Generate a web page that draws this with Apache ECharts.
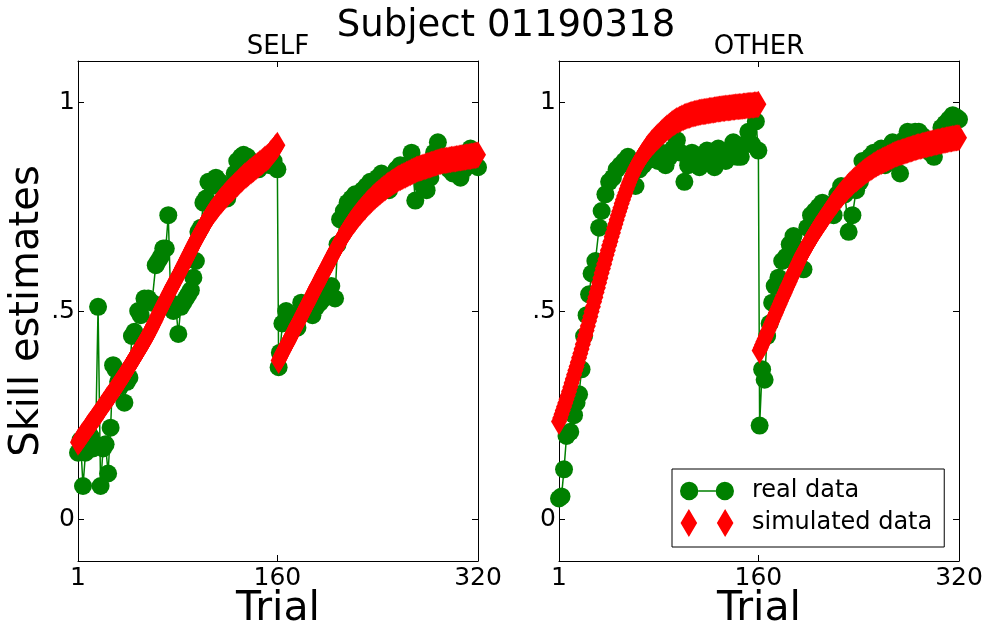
<!DOCTYPE html>
<html>
<head>
<meta charset="utf-8">
<script src="https://cdn.jsdelivr.net/npm/echarts@6/dist/echarts.min.js"></script>
<style>
html,body{margin:0;padding:0;background:#fff;}
#chart{width:988px;height:633px;}
</style>
</head>
<body>
<div id="chart"></div>
<script>
// ---------- DATA ----------
var mainTitle = 'Subject 01190318';
var panelTitles = ['SELF', 'OTHER'];
var xTicks = [1, 160, 320];
var yTicks = [0, 0.5, 1];
var yTickLabels = ['0', '.5', '1'];

var selfRealTrials = [1,3,5,7,9,11,13,15,17,19,21,23,25,27,29,31,33,35,38,40,42,44,46,49,51,54,57,60,63,65,67,69,71,73,75,77,79,81,83,85,87,89,91,93,95,97,99,101,103,105,108,111,114,117,120,123,126,128,131,133,136,139,142,145,148,151,154,157,160,
  161,162,164,167,170,173,176,179,182,185,188,191,194,197,200,203,206,208,210,213,216,219,222,225,228,231,234,237,240,243,246,249,252,255,258,261,264,267,270,273,276,279,282,285,288,291,294,297,300,303,306,309,312,314,317,320];
var selfRealValues = [0.16,0.19,0.08,0.16,0.21,0.20,0.17,0.18,0.51,0.08,0.17,0.18,0.11,0.22,0.37,0.36,0.33,0.32,0.28,0.33,0.34,0.44,0.45,0.50,0.49,0.53,0.53,0.52,0.61,0.62,0.63,0.65,0.65,0.73,0.52,0.50,0.51,0.445,0.51,0.52,0.53,0.54,0.55,0.58,0.62,0.69,0.70,0.76,0.77,0.81,0.80,0.82,0.81,0.80,0.77,0.79,0.83,0.86,0.87,0.875,0.87,0.86,0.85,0.84,0.85,0.86,0.85,0.86,0.84,
  0.365,0.40,0.47,0.50,0.49,0.48,0.46,0.52,0.51,0.50,0.49,0.51,0.52,0.53,0.54,0.56,0.53,0.66,0.72,0.74,0.76,0.77,0.78,0.78,0.79,0.80,0.81,0.80,0.82,0.83,0.81,0.79,0.82,0.84,0.85,0.84,0.85,0.88,0.765,0.83,0.80,0.79,0.82,0.88,0.905,0.87,0.86,0.84,0.83,0.84,0.82,0.84,0.86,0.89,0.86,0.845];

var otherRealTrials = [1,3,5,7,10,13,15,17,19,21,23,25,27,30,33,35,38,41,44,47,50,53,56,59,62,65,68,71,74,77,80,83,86,89,92,95,98,101,104,107,110,113,116,119,122,125,128,131,134,137,140,143,146,149,152,155,158,160,
  161,163,165,167,169,171,173,176,179,182,185,188,191,193,196,199,202,205,208,211,214,217,220,223,226,229,232,235,238,241,243,246,249,252,255,258,261,264,267,270,273,276,279,282,285,288,291,294,297,300,303,306,309,312,315,318,320];
var otherRealValues = [0.05,0.055,0.12,0.20,0.21,0.25,0.28,0.30,0.36,0.44,0.49,0.54,0.59,0.62,0.70,0.74,0.78,0.81,0.82,0.84,0.85,0.86,0.87,0.86,0.80,0.84,0.85,0.86,0.88,0.87,0.86,0.88,0.85,0.87,0.89,0.91,0.88,0.81,0.85,0.88,0.86,0.845,0.87,0.885,0.86,0.845,0.89,0.87,0.86,0.88,0.905,0.87,0.87,0.90,0.93,0.90,0.955,0.885,
  0.225,0.36,0.335,0.44,0.47,0.52,0.56,0.58,0.62,0.63,0.66,0.68,0.65,0.645,0.60,0.70,0.73,0.74,0.75,0.76,0.75,0.74,0.73,0.78,0.80,0.78,0.69,0.73,0.79,0.81,0.86,0.86,0.87,0.88,0.88,0.89,0.85,0.89,0.905,0.88,0.83,0.91,0.93,0.92,0.93,0.93,0.92,0.90,0.88,0.87,0.90,0.94,0.95,0.96,0.97,0.965,0.96];

// simulated data, one value per trial; first block = trials 1..160, second block = trials 161..320
var selfSimFirst = [.185,.189,.193,.198,.202,.206,.210,.215,.219,.224,
  .228,.232,.236,.241,.245,.249,.253,.258,.262,.267,
  .271,.276,.280,.285,.289,.293,.297,.302,.306,.311,
  .315,.320,.324,.329,.333,.338,.343,.348,.352,.357,
  .362,.367,.372,.377,.382,.387,.392,.397,.402,.407,
  .412,.417,.422,.427,.432,.438,.443,.449,.455,.461,
  .467,.473,.479,.486,.492,.498,.504,.510,.516,.522,
  .528,.534,.540,.546,.552,.558,.563,.569,.575,.581,
  .586,.592,.598,.604,.610,.616,.622,.628,.634,.640,
  .646,.652,.658,.664,.669,.675,.680,.686,.691,.697,
  .702,.708,.713,.718,.723,.728,.732,.737,.741,.745,
  .749,.753,.757,.761,.764,.768,.771,.775,.778,.782,
  .785,.788,.791,.794,.797,.800,.803,.806,.809,.812,
  .815,.818,.821,.824,.826,.829,.831,.834,.836,.839,
  .841,.844,.846,.849,.851,.854,.856,.859,.861,.864,
  .866,.869,.871,.875,.879,.883,.886,.890,.894,.898];
var selfSimSecond = [.381,.387,.393,.399,.405,.411,.417,.422,.428,.434,
  .440,.446,.452,.458,.464,.469,.475,.481,.487,.493,
  .499,.505,.511,.516,.522,.528,.534,.540,.546,.552,
  .558,.563,.569,.575,.581,.587,.593,.598,.604,.610,
  .616,.621,.627,.633,.639,.644,.650,.655,.661,.666,
  .672,.677,.682,.687,.692,.696,.701,.705,.710,.714,
  .718,.722,.726,.730,.734,.737,.741,.744,.748,.751,
  .755,.758,.761,.764,.767,.770,.773,.776,.779,.781,
  .784,.786,.789,.791,.794,.796,.799,.801,.803,.805,
  .807,.809,.811,.813,.815,.817,.819,.820,.822,.823,
  .825,.826,.828,.829,.831,.832,.834,.835,.837,.838,
  .840,.841,.842,.843,.844,.845,.846,.847,.848,.849,
  .850,.851,.852,.853,.854,.855,.856,.857,.858,.859,
  .860,.860,.861,.861,.862,.862,.863,.863,.864,.864,
  .865,.865,.866,.866,.867,.867,.868,.868,.869,.869,
  .870,.870,.871,.871,.872,.872,.873,.873,.874,.875];
var otherSimFirst = [.235,.243,.252,.261,.270,.279,.288,.297,.307,.317,
  .327,.337,.347,.357,.367,.377,.388,.398,.409,.420,
  .431,.442,.453,.464,.476,.487,.499,.510,.522,.533,
  .545,.556,.568,.579,.591,.602,.613,.624,.635,.646,
  .657,.667,.678,.688,.699,.709,.719,.729,.739,.748,
  .758,.767,.776,.784,.793,.801,.809,.816,.824,.830,
  .837,.843,.849,.854,.860,.865,.870,.874,.879,.883,
  .888,.892,.896,.899,.903,.906,.910,.913,.916,.919,
  .922,.925,.928,.931,.934,.936,.939,.941,.944,.946,
  .949,.951,.953,.955,.957,.958,.960,.961,.963,.964,
  .966,.967,.968,.969,.970,.971,.972,.973,.974,.974,
  .975,.976,.977,.977,.978,.978,.979,.979,.980,.980,
  .981,.981,.982,.982,.983,.983,.984,.984,.985,.985,
  .986,.986,.986,.987,.987,.987,.988,.988,.989,.989,
  .989,.990,.990,.990,.991,.991,.991,.992,.992,.992,
  .993,.993,.993,.994,.994,.994,.995,.995,.995,.996];
var otherSimSecond = [.405,.412,.419,.426,.433,.440,.447,.454,.461,.468,
  .475,.482,.489,.496,.503,.510,.517,.524,.531,.537,
  .544,.551,.558,.564,.571,.578,.585,.591,.598,.604,
  .611,.617,.624,.630,.636,.641,.647,.652,.658,.663,
  .668,.673,.678,.683,.688,.693,.698,.702,.707,.711,
  .716,.720,.725,.729,.734,.738,.743,.747,.752,.756,
  .760,.764,.768,.772,.776,.779,.783,.786,.790,.793,
  .797,.800,.803,.806,.809,.812,.815,.817,.820,.822,
  .825,.827,.830,.832,.835,.837,.839,.841,.843,.845,
  .847,.849,.851,.853,.855,.856,.858,.859,.861,.862,
  .864,.865,.867,.868,.870,.871,.873,.874,.876,.877,
  .878,.879,.880,.881,.882,.883,.884,.885,.886,.887,
  .888,.889,.890,.891,.892,.893,.894,.895,.895,.896,
  .897,.898,.899,.899,.900,.901,.902,.902,.903,.904,
  .905,.905,.906,.907,.907,.908,.909,.909,.910,.911,
  .911,.912,.913,.913,.914,.914,.915,.915,.916,.916];

// ---------- BUILD ----------
function pairs(xs, ys) { return xs.map(function (x, i) { return [x, ys[i]]; }); }
function trialPairs(first, second) {
  var out = [];
  first.forEach(function (v, i) { out.push([i + 1, v]); });
  second.forEach(function (v, i) { out.push([i + 161, v]); });
  return out;
}

var FONT = 'DejaVu Sans';
var GREEN = '#008000';
var RED = '#ff0000';

var grids = [
  { left: 78, top: 61, width: 400, height: 500, outerBoundsMode: 'none', containLabel: false },
  { left: 559, top: 61, width: 400, height: 500, outerBoundsMode: 'none', containLabel: false }
];

var xAxes = [], yAxes = [];
[0, 1].forEach(function (g) {
  var common = {
    gridIndex: g, type: 'value', min: 1, max: 320,
    axisLine: { show: true, onZero: false, lineStyle: { color: '#000', width: 1 } },
    splitLine: { show: false },
    axisTick: { show: true, inside: true, length: 6, customValues: xTicks, lineStyle: { color: '#000', width: 1 } }
  };
  xAxes.push(Object.assign({}, common, {
    position: 'bottom',
    axisLabel: { show: true, customValues: xTicks, fontFamily: FONT, fontSize: 25, color: '#000', margin: 5 },
    name: 'Trial', nameLocation: 'middle', nameGap: 28, nameMoveOverlap: false,
    nameTextStyle: { fontFamily: FONT, fontSize: 41, color: '#000' }
  }));
  xAxes.push(Object.assign({}, common, { position: 'top', axisLabel: { show: false } }));

  var ycommon = {
    gridIndex: g, type: 'value', min: -0.1, max: 1.1,
    axisLine: { show: true, onZero: false, lineStyle: { color: '#000', width: 1 } },
    splitLine: { show: false },
    axisTick: { show: true, inside: true, length: 6, customValues: yTicks, lineStyle: { color: '#000', width: 1 } }
  };
  var yl = Object.assign({}, ycommon, {
    position: 'left',
    axisLabel: {
      show: true, customValues: yTicks, fontFamily: FONT, fontSize: 25, color: '#000', margin: 3,
      formatter: function (v) { var i = yTicks.indexOf(v); return i >= 0 ? yTickLabels[i] : ''; }
    }
  });
  if (g === 0) {
    yl.name = 'Skill estimates';
    yl.nameLocation = 'middle';
    yl.nameGap = 27;
    yl.nameTextStyle = { fontFamily: FONT, fontSize: 40, color: '#000' };
  }
  yAxes.push(yl);
  yAxes.push(Object.assign({}, ycommon, { position: 'right', axisLabel: { show: false } }));
});

function realSeries(g, xs, ys) {
  return {
    name: 'real data', type: 'line', xAxisIndex: g * 2, yAxisIndex: g * 2,
    data: pairs(xs, ys), symbol: 'circle', symbolSize: 18, showSymbol: true, showAllSymbol: true,
    lineStyle: { color: GREEN, width: 1.5 }, itemStyle: { color: GREEN, borderWidth: 0 },
    clip: true, silent: true, z: 2
  };
}
function simSeries(g, data) {
  return {
    name: 'simulated data', type: 'scatter', xAxisIndex: g * 2, yAxisIndex: g * 2,
    data: data, symbol: 'diamond', symbolSize: [16, 27],
    itemStyle: { color: RED, opacity: 1, borderWidth: 0 },
    clip: true, silent: true, z: 3, large: false
  };
}

var iconReal = 'path://M0,9a9,9 0 1,0 18,0a9,9 0 1,0 -18,0Z M35,9a9,9 0 1,0 18,0a9,9 0 1,0 -18,0Z M18,8.2L35,8.2L35,9.8L18,9.8Z';
var iconSim = 'path://M8,0L16,13.5L8,27L0,13.5Z M43,0L51,13.5L43,27L35,13.5Z';

var option = {
  animation: false,
  backgroundColor: '#fff',
  grid: grids,
  xAxis: xAxes,
  yAxis: yAxes,
  legend: {
    left: 672, top: 469, orient: 'vertical',
    padding: [10, 12, 10, 8], itemGap: 6, itemWidth: 54, itemHeight: 28,
    borderColor: '#000', borderWidth: 1, backgroundColor: '#fff', borderRadius: 0,
    itemStyle: { borderWidth: 0 },
    textStyle: { fontFamily: FONT, fontSize: 24, color: '#000', padding: [0, 0, 0, 13] },
    selectedMode: false,
    data: [{ name: 'real data', icon: iconReal }, { name: 'simulated data', icon: iconSim }]
  },
  graphic: [
    { type: 'text', x: 506, y: 26, style: { text: mainTitle, font: '37px "DejaVu Sans"', fill: '#000', textAlign: 'center', textVerticalAlign: 'middle' } },
    { type: 'text', x: 278, y: 47, style: { text: panelTitles[0], font: '26px "DejaVu Sans"', fill: '#000', textAlign: 'center', textVerticalAlign: 'middle' } },
    { type: 'text', x: 759, y: 47, style: { text: panelTitles[1], font: '26px "DejaVu Sans"', fill: '#000', textAlign: 'center', textVerticalAlign: 'middle' } }
  ],
  series: [
    realSeries(0, selfRealTrials, selfRealValues),
    simSeries(0, trialPairs(selfSimFirst, selfSimSecond)),
    realSeries(1, otherRealTrials, otherRealValues),
    simSeries(1, trialPairs(otherSimFirst, otherSimSecond))
  ]
};

var chart = echarts.init(document.getElementById('chart'), null, { renderer: 'canvas' });
chart.setOption(option);
</script>
</body>
</html>
